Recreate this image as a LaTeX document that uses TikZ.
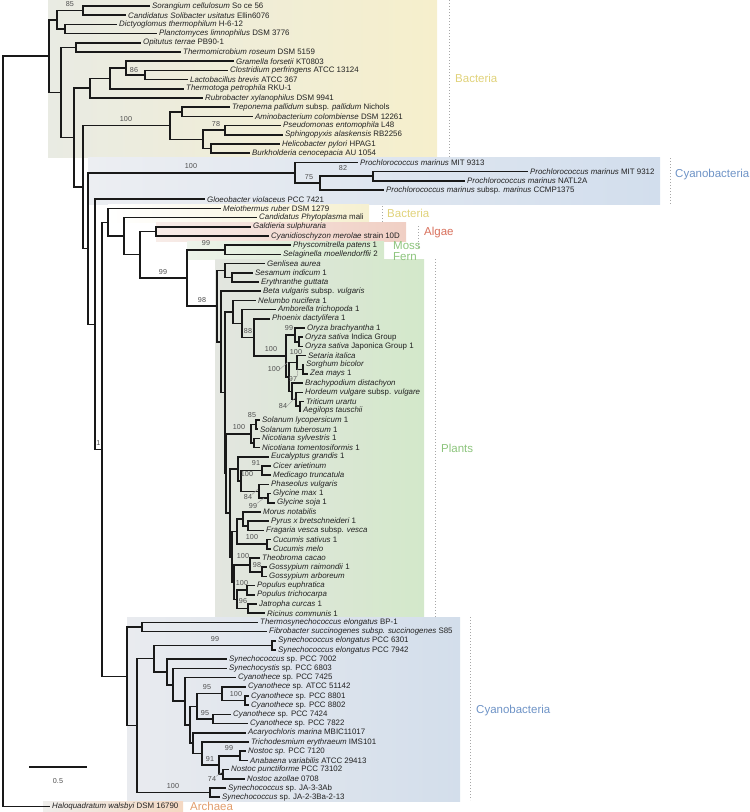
\documentclass[tikz,border=0pt]{standalone}
\usepackage{fontspec}
\setmainfont{Liberation Sans}
\usetikzlibrary{calc}
\definecolor{txt}{HTML}{222222}
\definecolor{bsc}{HTML}{505050}
\definecolor{cbac}{HTML}{E0D27A}
\definecolor{ccya}{HTML}{6E93C6}
\definecolor{calg}{HTML}{D8705C}
\definecolor{cpla}{HTML}{8CC47C}
\definecolor{carc}{HTML}{E29E6D}
\newcommand\lff{\fontsize{7.9}{9}\selectfont}
\newcommand\bsff{\fontsize{7.2}{8}\selectfont}
\newcommand\grf{\fontsize{11.5}{13}\selectfont}
\newcommand\spn[1]{\textit{#1}}
\newcommand\lv[4]{\node[lf] (#1) at (#2-2.5,{6+(#3-1)*9.2}) {#4};}
\newcommand\nd[4]{\path let \p1=($(#3)!0.5!(#4)$) in (#2pt,\y1) coordinate (#1);
  \draw[br] (#1) |- (#3) (#1) |- (#4);}
\tikzset{
  lf/.style={anchor=west, inner xsep=2.5pt, inner ysep=0pt, font=\lff, text=txt},
  br/.style={line width=1.5pt, draw=black!90},
  bs/.style={font=\bsff, text=bsc, inner sep=0pt},
  grp/.style={font=\grf, anchor=west, inner sep=0pt},
  dotl/.style={draw=black!35, line width=0.9pt, dash pattern=on 0.9pt off 2.1pt},
  ldr/.style={draw=black!40, line width=0.4pt}
}
\begin{document}
\begin{tikzpicture}[x=1pt,y=-1pt]
\useasboundingbox (0,0) rectangle (750,812);
% backgrounds
\shade[left color={rgb,255:red,233;green,235;blue,227}, right color={rgb,255:red,246;green,239;blue,204}] (48,0) rectangle (437,157.5);
\shade[left color={rgb,255:red,236;green,238;blue,242}, right color={rgb,255:red,210;green,222;blue,237}] (88,157.5) rectangle (660,204);
\shade[left color=white, right color={rgb,255:red,246;green,240;blue,208}] (108,204) rectangle (369,222);
\shade[left color={rgb,255:red,247;green,236;blue,232}, right color={rgb,255:red,240;green,207;blue,196}] (156,222) rectangle (406,241);
\shade[left color={rgb,255:red,237;green,243;blue,234}, right color={rgb,255:red,213;green,233;blue,204}] (187,241) rectangle (384,259);
\shade[left color={rgb,255:red,227;green,230;blue,224}, right color={rgb,255:red,211;green,232;blue,202}] (215,259) rectangle (424,617);
\shade[left color={rgb,255:red,233;green,235;blue,239}, right color={rgb,255:red,211;green,222;blue,235}] (127,617) rectangle (460,801);
\shade[left color={rgb,255:red,239;green,238;blue,235}, right color={rgb,255:red,244;green,216;blue,194}] (43,801) rectangle (183,812);
% leaves
\lv{l1}{152}{1}{\spn{Sorangium cellulosum} So ce 56}
\lv{l2}{128}{2}{\spn{Candidatus Solibacter usitatus} Ellin6076}
\lv{l3}{119}{3}{\spn{Dictyoglomus thermophilum} H-6-12}
\lv{l4}{159}{4}{\spn{Planctomyces limnophilus} DSM 3776}
\lv{l5}{143}{5}{\spn{Opitutus terrae} PB90-1}
\lv{l6}{183}{6}{\spn{Thermomicrobium roseum} DSM 5159}
\lv{l7}{236}{7}{\spn{Gramella forsetii} KT0803}
\lv{l8}{230}{8}{\spn{Clostridium perfringens} ATCC 13124}
\lv{l9}{190}{9}{\spn{Lactobacillus brevis} ATCC 367}
\lv{l10}{186}{10}{\spn{Thermotoga petrophila} RKU-1}
\lv{l11}{205}{11}{\spn{Rubrobacter xylanophilus} DSM 9941}
\lv{l12}{232}{12}{\spn{Treponema pallidum} subsp. \spn{pallidum} Nichols}
\lv{l13}{255}{13}{\spn{Aminobacterium colombiense} DSM 12261}
\lv{l14}{283}{14}{\spn{Pseudomonas entomophila} L48}
\lv{l15}{285}{15}{\spn{Sphingopyxis alaskensis} RB2256}
\lv{l16}{282}{16}{\spn{Helicobacter pylori} HPAG1}
\lv{l17}{252}{17}{\spn{Burkholderia cenocepacia} AU 1054}
\lv{l18}{360}{18}{\spn{Prochlorococcus marinus} MIT 9313}
\lv{l19}{530}{19}{\spn{Prochlorococcus marinus} MIT 9312}
\lv{l20}{467}{20}{\spn{Prochlorococcus marinus} NATL2A}
\lv{l21}{386}{21}{\spn{Prochlorococcus marinus} subsp. \spn{marinus} CCMP1375}
\lv{l22}{207}{22}{\spn{Gloeobacter violaceus} PCC 7421}
\lv{l23}{223}{23}{\spn{Meiothermus ruber} DSM 1279}
\lv{l24}{259}{24}{\spn{Candidatus Phytoplasma} mali}
\lv{l25}{253}{25}{\spn{Galdieria sulphuraria}}
\lv{l26}{271}{26}{\spn{Cyanidioschyzon merolae} strain 10D}
\lv{l27}{293}{27}{\spn{Physcomitrella patens} 1}
\lv{l28}{283}{28}{\spn{Selaginella moellendorffii} 2}
\lv{l29}{267}{29}{\spn{Genlisea aurea}}
\lv{l30}{255}{30}{\spn{Sesamum indicum} 1}
\lv{l31}{261}{31}{\spn{Erythranthe guttata}}
\lv{l32}{263}{32}{\spn{Beta vulgaris} subsp. \spn{vulgaris}}
\lv{l33}{258}{33}{\spn{Nelumbo nucifera} 1}
\lv{l34}{278}{34}{\spn{Amborella trichopoda} 1}
\lv{l35}{272}{35}{\spn{Phoenix dactylifera} 1}
\lv{l36}{307}{36}{\spn{Oryza brachyantha} 1}
\lv{l37}{305}{37}{\spn{Oryza sativa} Indica Group}
\lv{l38}{305}{38}{\spn{Oryza sativa} Japonica Group 1}
\lv{l39}{308}{39}{\spn{Setaria italica}}
\lv{l40}{306}{40}{\spn{Sorghum bicolor}}
\lv{l41}{310}{41}{\spn{Zea mays} 1}
\lv{l42}{305}{42}{\spn{Brachypodium distachyon}}
\lv{l43}{305}{43}{\spn{Hordeum vulgare} subsp. \spn{vulgare}}
\lv{l44}{306}{44}{\spn{Triticum urartu}}
\lv{l45}{303}{45}{\spn{Aegilops tauschii}}
\lv{l46}{262}{46}{\spn{Solanum lycopersicum} 1}
\lv{l47}{260}{47}{\spn{Solanum tuberosum} 1}
\lv{l48}{262}{48}{\spn{Nicotiana sylvestris} 1}
\lv{l49}{262}{49}{\spn{Nicotiana tomentosiformis} 1}
\lv{l50}{271}{50}{\spn{Eucalyptus grandis} 1}
\lv{l51}{273}{51}{\spn{Cicer arietinum}}
\lv{l52}{273}{52}{\spn{Medicago truncatula}}
\lv{l53}{271}{53}{\spn{Phaseolus vulgaris}}
\lv{l54}{273}{54}{\spn{Glycine max} 1}
\lv{l55}{277}{55}{\spn{Glycine soja} 1}
\lv{l56}{263}{56}{\spn{Morus notabilis}}
\lv{l57}{271}{57}{\spn{Pyrus x bretschneideri} 1}
\lv{l58}{266}{58}{\spn{Fragaria vesca} subsp. \spn{vesca}}
\lv{l59}{273}{59}{\spn{Cucumis sativus} 1}
\lv{l60}{273}{60}{\spn{Cucumis melo}}
\lv{l61}{262}{61}{\spn{Theobroma cacao}}
\lv{l62}{269}{62}{\spn{Gossypium raimondii} 1}
\lv{l63}{269}{63}{\spn{Gossypium arboreum}}
\lv{l64}{257}{64}{\spn{Populus euphratica}}
\lv{l65}{257}{65}{\spn{Populus trichocarpa}}
\lv{l66}{259}{66}{\spn{Jatropha curcas} 1}
\lv{l67}{267}{67}{\spn{Ricinus communis} 1}
\lv{l68}{260}{68}{\spn{Thermosynechococcus elongatus} BP-1}
\lv{l69}{269}{69}{\spn{Fibrobacter succinogenes subsp. succinogenes} S85}
\lv{l70}{278}{70}{\spn{Synechococcus elongatus} PCC 6301}
\lv{l71}{278}{71}{\spn{Synechococcus elongatus} PCC 7942}
\lv{l72}{229}{72}{\spn{Synechococcus} sp. PCC 7002}
\lv{l73}{229}{73}{\spn{Synechocystis} sp. PCC 6803}
\lv{l74}{238}{74}{\spn{Cyanothece} sp. PCC 7425}
\lv{l75}{248}{75}{\spn{Cyanothece} sp. ATCC 51142}
\lv{l76}{251}{76}{\spn{Cyanothece} sp. PCC 8801}
\lv{l77}{251}{77}{\spn{Cyanothece} sp. PCC 8802}
\lv{l78}{233}{78}{\spn{Cyanothece} sp. PCC 7424}
\lv{l79}{250}{79}{\spn{Cyanothece} sp. PCC 7822}
\lv{l80}{248}{80}{\spn{Acaryochloris marina} MBIC11017}
\lv{l81}{251}{81}{\spn{Trichodesmium erythraeum} IMS101}
\lv{l82}{248}{82}{\spn{Nostoc sp.} PCC 7120}
\lv{l83}{250}{83}{\spn{Anabaena variabilis} ATCC 29413}
\lv{l84}{231}{84}{\spn{Nostoc punctiforme} PCC 73102}
\lv{l85}{247}{85}{\spn{Nostoc azollae} 0708}
\lv{l86}{228}{86}{\spn{Synechococcus} sp. JA-3-3Ab}
\lv{l87}{222}{87}{\spn{Synechococcus} sp. JA-2-3Ba-2-13}
\lv{l88}{52}{88}{\spn{Haloquadratum walsbyi} DSM 16790}
% internal nodes
\nd{nC}{83}{l1}{l2}
\nd{nD}{65}{l3}{l4}
\nd{nB}{57}{nC}{nD}
\nd{nF}{76}{l5}{l6}
\nd{nCL}{145}{l8}{l9}
\nd{nGCL}{126}{l7}{nCL}
\nd{nGT}{110}{nGCL}{l10}
\nd{nGR}{90}{nGT}{l11}
\nd{nTA}{182}{l12}{l13}
\nd{nPS}{225}{l14}{l15}
\nd{nHB}{211}{l16}{l17}
\nd{nPH}{203}{nPS}{nHB}
\nd{nTP}{170}{nTA}{nPH}
\nd{nM12}{373}{l19}{l20}
\nd{nM3}{320}{nM12}{l21}
\nd{nPro}{295}{l18}{nM3}
\nd{nSE}{232}{l30}{l31}
\nd{nLam}{225}{l29}{nSE}
\nd{nOS}{299}{l37}{l38}
\nd{nOry}{295}{l36}{nOS}
\nd{nSZ}{303}{l40}{l41}
\nd{nPan}{297}{l39}{nSZ}
\nd{nTAe}{300}{l44}{l45}
\nd{nHTA}{296}{l43}{nTAe}
\nd{nPoo}{292}{l42}{nHTA}
\nd{nPP}{289}{nPan}{nPoo}
\nd{nMon}{286}{nOry}{nPP}
\nd{nPho}{254}{l35}{nMon}
\nd{nAmb}{242}{l34}{nPho}
\nd{nNel}{233}{l33}{nAmb}
\nd{nSS}{256}{l46}{l47}
\nd{nNN}{254}{l48}{l49}
\nd{nSol}{251}{nSS}{nNN}
\nd{nCM}{262}{l51}{l52}
\nd{nGG}{268}{l54}{l55}
\nd{nPG}{259}{l53}{nGG}
\nd{nLeg}{241}{nCM}{nPG}
\nd{nEL}{238}{l50}{nLeg}
\nd{nRos}{248}{l57}{l58}
\nd{nMR}{243}{l56}{nRos}
\nd{nCC}{267}{l59}{l60}
\nd{nMRC}{237}{nMR}{nCC}
\nd{nGS}{262}{l62}{l63}
\nd{nTG}{250}{l61}{nGS}
\nd{nPop}{247}{l64}{l65}
\nd{nJR}{248}{l66}{l67}
\nd{nPJR}{237}{nPop}{nJR}
\nd{nMal}{234}{nTG}{nPJR}
\nd{nRtwo}{232}{nMRC}{nMal}
\nd{nRone}{230}{nEL}{nRtwo}
\nd{nSR}{226}{nSol}{nRone}
\nd{nEud}{225}{nNel}{nSR}
\nd{nBeta}{221}{l32}{nEud}
\nd{nPl}{217}{nLam}{nBeta}
\nd{nMF}{225}{l27}{l28}
\nd{nLand}{187}{nMF}{nPl}
\nd{nAlg}{156}{l25}{l26}
\nd{nRA}{140}{nAlg}{nLand}
\nd{nPhy}{124}{l24}{nRA}
\nd{nMei}{108}{l23}{nPhy}
\nd{nTF}{142}{l68}{l69}
\nd{nSEl}{272}{l70}{l71}
\nd{nCe}{245}{l76}{l77}
\nd{nCf}{222}{l75}{nCe}
\nd{nCs}{213}{l78}{l79}
\nd{nCy}{197}{nCf}{nCs}
\nd{nNA}{240}{l82}{l83}
\nd{nNP}{223}{l84}{l85}
\nd{nNos}{219}{nNA}{nNP}
\nd{nTri}{202}{l81}{nNos}
\nd{nAca}{193}{l80}{nTri}
\nd{nKa}{190}{nCy}{nAca}
\nd{nKb}{185}{l74}{nKa}
\nd{nKc}{173}{l73}{nKb}
\nd{nKd}{167}{l72}{nKc}
\nd{nKe}{154}{nSEl}{nKd}
\nd{nJA}{210}{l86}{l87}
\nd{nKf}{137}{nKe}{nJA}
\nd{nCyb}{127}{nTF}{nKf}
\nd{nOne}{102}{nMei}{nCyb}
\nd{nGlo}{95}{l22}{nOne}
\nd{nPc}{88}{nPro}{nGlo}
\nd{nHund}{83}{nTP}{nPc}
\nd{nG}{74}{nGR}{nHund}
\nd{nE}{61}{nF}{nG}
\nd{nA}{49}{nB}{nE}
\nd{nR}{3}{nA}{l88}
% bootstrap values
\node[bs] (b1) at (70,4) {85};
\node[bs] (b2) at (134,70) {86};
\node[bs] (b3) at (126,119) {100};
\node[bs] (b4) at (216,124) {78};
\node[bs] (b5) at (191,166) {100};
\node[bs] (b6) at (343,168.5) {82};
\node[bs] (b7) at (309,177) {75};
\node[bs] (b8) at (206,243) {99};
\node[bs] (b9) at (163,272) {99};
\node[bs] (b10) at (202,300) {98};
\node[bs] (b11) at (248,331) {88};
\node[bs] (b12) at (289,328) {99};
\node[bs] (b13) at (271,349) {100};
\node[bs] (b14) at (296,352) {100};
\node[bs] (b15) at (274,369) {100};
\node[bs] (b16) at (293,379) {97};
\node[bs] (b17) at (283,406) {84};
\node[bs] (b18) at (252,415) {85};
\node[bs] (b19) at (239,427) {100};
\node[bs] (b20) at (256,463) {91};
\node[bs] (b21) at (247,474) {100};
\node[bs] (b22) at (248,497) {84};
\node[bs] (b23) at (253,506) {99};
\node[bs] (b24) at (252,537) {100};
\node[bs] (b25) at (243,556) {100};
\node[bs] (b26) at (257,565) {98};
\node[bs] (b27) at (242,583) {100};
\node[bs] (b28) at (243,601) {96};
\node[bs] (b29) at (98.5,443) {1};
\node[bs] (b30) at (215,639) {99};
\node[bs] (b31) at (207,687) {95};
\node[bs] (b32) at (236,694) {100};
\node[bs] (b33) at (205,713) {95};
\node[bs] (b34) at (229,748) {99};
\node[bs] (b35) at (210,759) {91};
\node[bs] (b36) at (212,779) {74};
\node[bs] (b37) at (173,786) {100};
% leader lines
\coordinate (q15) at (288,362);
\coordinate (q16) at (298,368);
\coordinate (q17) at (295,398);
\coordinate (q22) at (258,489);
\coordinate (q23) at (264,498);
\coordinate (q36) at (222,772);
\draw[ldr] (b15.east) -- (q15);
\draw[ldr] (b16.north east) -- (q16);
\draw[ldr] (b17.east) -- (q17);
\draw[ldr] (b22.north east) -- (q22);
\draw[ldr] (b23.north east) -- (q23);
\draw[ldr] (b36.north east) -- (q36);
% group labels and dotted rules
\coordinate (d1a) at (449,0); \coordinate (d1b) at (449,157);
\coordinate (d2a) at (670,158); \coordinate (d2b) at (670,204);
\coordinate (d3a) at (382,206); \coordinate (d3b) at (382,222);
\coordinate (d4a) at (418,226); \coordinate (d4b) at (418,248);
\coordinate (d5a) at (435,259); \coordinate (d5b) at (435,617);
\coordinate (d6a) at (470,617); \coordinate (d6b) at (470,800);
\draw[dotl] (d1a) -- (d1b);
\draw[dotl] (d2a) -- (d2b);
\draw[dotl] (d3a) -- (d3b);
\draw[dotl] (d4a) -- (d4b);
\draw[dotl] (d5a) -- (d5b);
\draw[dotl] (d6a) -- (d6b);
\node[grp, text=cbac] (gB1) at (455,78) {Bacteria};
\node[grp, text=ccya] (gC1) at (675,175) {Cyanobacteria};
\node[grp, text=cbac] (gB2) at (387,213) {Bacteria};
\node[grp, text=calg] (gAl) at (424,233) {Algae};
\node[grp, text=cpla] (gMo) at (393,246) {Moss};
\node[grp, text=cpla] (gFe) at (393,256.5) {Fern};
\node[grp, text=cpla] (gPl) at (441,448) {Plants};
\node[grp, text=ccya] (gC2) at (476,711) {Cyanobacteria};
\node[grp, text=carc] (gAr) at (190,806) {Archaea};
% scale bar
\coordinate (s1) at (29,767); \coordinate (s2) at (87,767);
\draw[br] (s1) -- (s2);
\node[bs] (sl) at (58,781) {0.5};
\end{tikzpicture}
\end{document}
